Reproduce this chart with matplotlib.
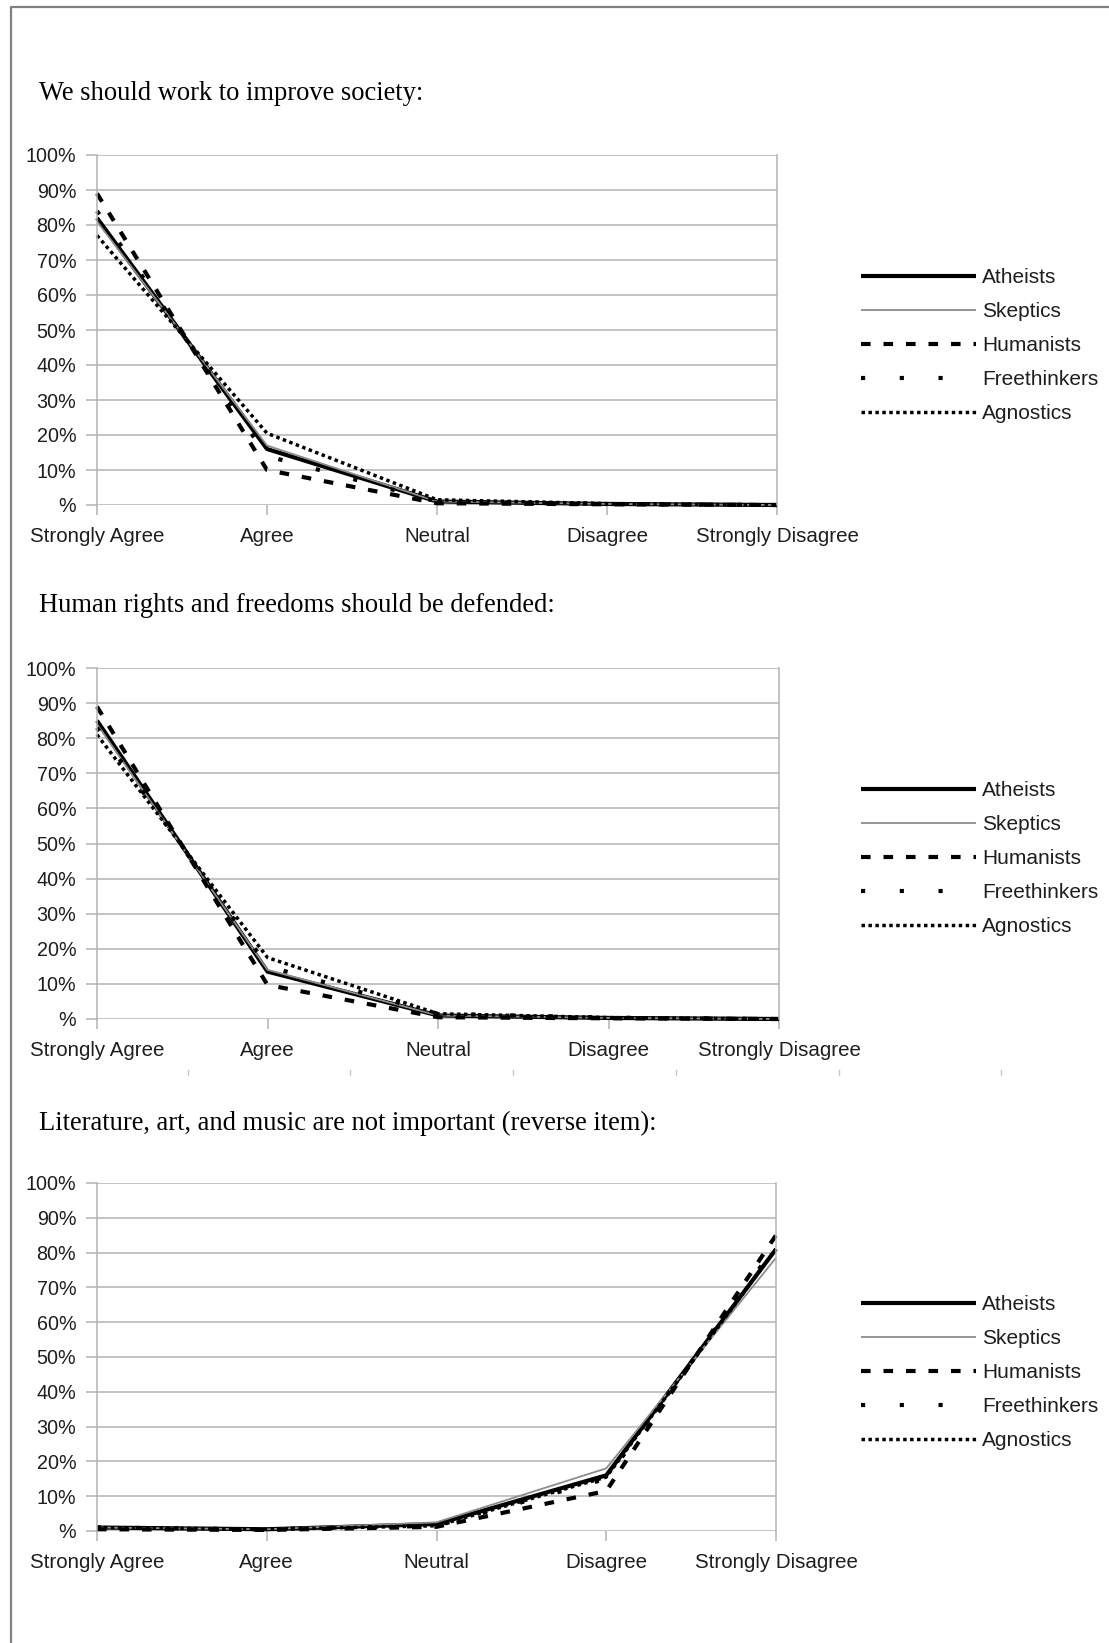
import matplotlib

matplotlib.use("Agg")
import matplotlib.pyplot as plt
from matplotlib.lines import Line2D

categories = ["Strongly Agree", "Agree", "Neutral", "Disagree", "Strongly Disagree"]
groups = ["Atheists", "Skeptics", "Humanists", "Freethinkers", "Agnostics"]
ytick_vals = [0, 10, 20, 30, 40, 50, 60, 70, 80, 90, 100]
ytick_labels = ["%", "10%", "20%", "30%", "40%", "50%", "60%", "70%", "80%", "90%", "100%"]

titles = [
    "We should work to improve society:",
    "Human rights and freedoms should be defended:",
    "Literature, art, and music are not important (reverse item):",
]

# percent of respondents per answer, one list per group
society_atheists = [82, 16, 1, 0.3, 0]
society_skeptics = [81, 17, 1, 0.3, 0]
society_humanists = [89, 10, 0.5, 0.2, 0]
society_freethinkers = [84, 14, 1, 0.3, 0]
society_agnostics = [77, 20.5, 1.5, 0.4, 0]

rights_atheists = [85, 13.5, 1, 0.3, 0]
rights_skeptics = [84, 14, 1, 0.3, 0]
rights_humanists = [89, 9.7, 0.5, 0.2, 0]
rights_freethinkers = [83, 15, 1.5, 0.4, 0]
rights_agnostics = [81, 17.5, 1.5, 0.4, 0]

arts_atheists = [1, 0.5, 2, 16, 81]
arts_skeptics = [1, 0.5, 2.5, 18, 78.5]
arts_humanists = [0.5, 0.3, 1.2, 11.5, 85]
arts_freethinkers = [1, 0.5, 1.5, 15, 82]
arts_agnostics = [1, 0.5, 1.5, 15.5, 81]

panels = [
    [society_atheists, society_skeptics, society_humanists, society_freethinkers, society_agnostics],
    [rights_atheists, rights_skeptics, rights_humanists, rights_freethinkers, rights_agnostics],
    [arts_atheists, arts_skeptics, arts_humanists, arts_freethinkers, arts_agnostics],
]

styles = {
    "Atheists": dict(color="black", lw=3.0, linestyle="-"),
    "Skeptics": dict(color="#8c8c8c", lw=1.3, linestyle="-"),
    "Humanists": dict(color="black", lw=3.0, dashes=(2.3, 3.1)),
    "Freethinkers": dict(color="black", lw=3.0, dashes=(1.0, 8.3)),
    "Agnostics": dict(color="black", lw=2.5, dashes=(1.0, 1.0)),
}

W, H = 1109, 1643
GRID = "#b3b3b3"
TXT = "#1e1e1e"
SANS = ["Liberation Sans", "DejaVu Sans"]
SERIF = ["Liberation Serif", "DejaVu Serif"]

# pixel boxes: left, top, right, bottom
boxes = [(97, 155, 777, 505), (97, 668, 779, 1019), (97, 1183, 776, 1531)]
title_y = [94, 606, 1123]

fig = plt.figure(figsize=(W / 100, H / 100), dpi=100)

# page border (top and left only)
fig.add_artist(Line2D([11 / W, 11 / W, 1], [0, 1 - 7 / H, 1 - 7 / H], color="#808080", lw=1.6,
                      transform=fig.transFigure))

# stray tick marks left over below the second chart
for x in [188, 350, 513, 676, 839, 1001]:
    fig.add_artist(Line2D([x / W, x / W], [1 - 1070 / H, 1 - 1075 / H], color="#c8c8c8", lw=1,
                          transform=fig.transFigure))

for k, (l, t, r, b) in enumerate(boxes):
    ax = fig.add_axes([l / W, 1 - b / H, (r - l) / W, (b - t) / H])
    x = range(len(categories))
    for g, vals in zip(groups, panels[k]):
        ax.plot(x, vals, label=g, clip_on=False, solid_capstyle="butt", dash_capstyle="butt", **styles[g])
    ax.set_xlim(0, len(categories) - 1)
    ax.set_ylim(0, 100)
    ax.set_yticks(ytick_vals)
    ax.set_yticklabels(ytick_labels)
    ax.set_xticks(list(x))
    ax.set_xticklabels(categories)
    ax.grid(axis="y", color=GRID, lw=1.1)
    ax.set_axisbelow(True)
    for side in ["top", "bottom"]:
        ax.spines[side].set_visible(False)
    for side in ["left", "right"]:
        ax.spines[side].set_color(GRID)
        ax.spines[side].set_linewidth(1.1)
    ax.tick_params(axis="y", length=8, width=1.1, color=GRID, pad=7, labelsize=14.2, labelcolor=TXT)
    ax.tick_params(axis="x", length=7, width=1.1, color=GRID, pad=9, labelsize=14.8, labelcolor=TXT)
    for lab in ax.get_xticklabels() + ax.get_yticklabels():
        lab.set_family(SANS)
    leg = ax.legend(loc="center left", bbox_to_anchor=((861 - l) / (r - l), 0.456), frameon=False,
                    borderpad=0, borderaxespad=0, handlelength=5.5, handletextpad=0.3,
                    labelspacing=0.72, prop={"family": SANS, "size": 15})
    for txt in leg.get_texts():
        txt.set_color(TXT)
    fig.text(39 / W, 1 - title_y[k] / H, titles[k], ha="left", va="center", fontsize=19.1,
             family=SERIF, color="black")

fig.savefig("out.png", dpi=100)
